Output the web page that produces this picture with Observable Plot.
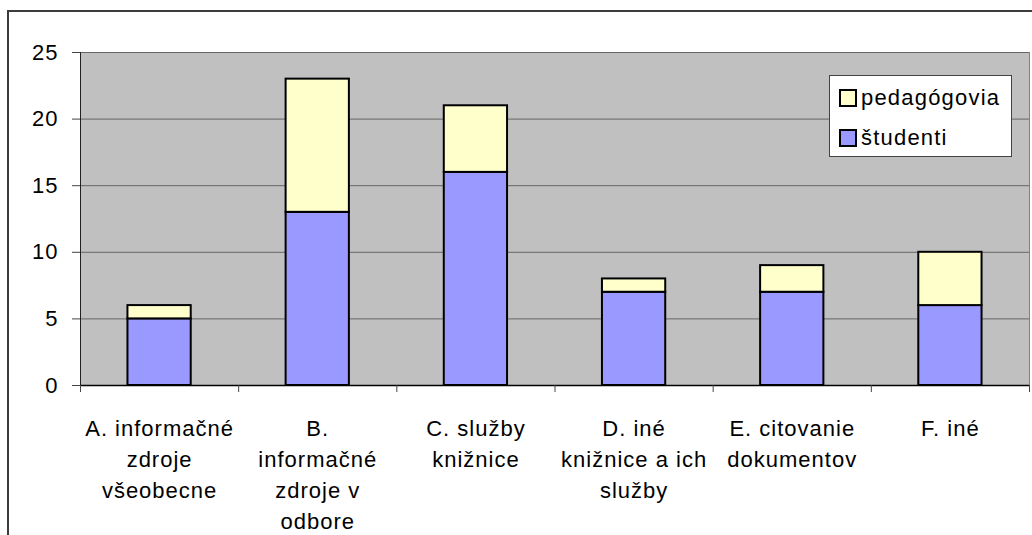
<!DOCTYPE html>
<html>
<head>
<meta charset="utf-8">
<script src="https://cdn.jsdelivr.net/npm/d3@7"></script>
<script src="https://cdn.jsdelivr.net/npm/@observablehq/plot@0.6"></script>
<style>
  html, body { margin: 0; padding: 0; background: #fff; overflow: hidden; }
  #wrap { position: relative; width: 1032px; height: 535px; overflow: hidden; font-family: "Liberation Sans", Arial, sans-serif; }
  #border { position: absolute; left: 7px; top: 10px; width: 1200px; height: 800px; border-left: 2px solid #3c3c3c; border-top: 2px solid #3c3c3c; }
  #chart { position: absolute; left: 0; top: 0; }
  #legend { position: absolute; left: 829px; top: 75px; width: 181px; height: 80px; background: #fff; border: 1px solid #444; }
  .item { position: absolute; left: 9px; display: flex; align-items: center; font-size: 22px; letter-spacing: 1.2px; color: #000; }
  .sw { width: 14px; height: 14px; border: 2px solid #000; margin-right: 4px; }
</style>
</head>
<body>
<div id="wrap">
  <div id="border"></div>
  <div id="chart"></div>
  <div id="legend"></div>
</div>
<script>
const categories = [
  "A. informačné\nzdroje\nvšeobecne",
  "B.\ninformačné\nzdroje v\nodbore",
  "C. služby\nknižnice",
  "D. iné\nknižnice a ich\nslužby",
  "E. citovanie\ndokumentov",
  "F. iné"
];
const studenti = [5, 13, 16, 7, 7, 6];
const pedagogovia = [1, 10, 5, 1, 2, 4];
const seriesNames = ["študenti", "pedagógovia"];
const seriesColors = ["#9999FF", "#FFFFCC"];
const yTicks = [0, 5, 10, 15, 20, 25];

const rows = [];
categories.forEach((c, i) => {
  rows.push({i, series: seriesNames[0], value: studenti[i]});
  rows.push({i, series: seriesNames[1], value: pedagogovia[i]});
});

const chart = Plot.plot({
  width: 1032,
  height: 535,
  marginLeft: 80,
  marginRight: 3,
  marginTop: 52,
  marginBottom: 150,
  style: {fontFamily: "'Liberation Sans', Arial, sans-serif", fontSize: "22px", letterSpacing: "1px", background: "transparent", color: "#000", overflow: "visible"},
  x: {type: "linear", domain: [0, categories.length], axis: null},
  y: {domain: [0, 25], axis: null},
  color: {domain: seriesNames, range: seriesColors},
  marks: [
    Plot.frame({fill: "#C0C0C0", stroke: "#808080"}),
    Plot.gridY(yTicks, {stroke: "#666", strokeOpacity: 1, strokeWidth: 1}),
    Plot.rectY(rows, {x1: d => d.i + 0.3, x2: d => d.i + 0.7, y: "value", fill: "series", stroke: "#000", strokeWidth: 2, order: seriesNames}),
    Plot.ruleX([0], {stroke: "#222", strokeWidth: 1}),
    Plot.ruleY([0], {stroke: "#000", strokeWidth: 1.5}),
    Plot.axisY({ticks: yTicks, tickSize: 8, tickPadding: 14, stroke: "#444", fill: "#000", fontSize: 22, label: null}),
    Plot.axisX({ticks: d3.range(categories.length + 1), tickSize: 7, tickFormat: () => "", stroke: "#444", label: null}),
    Plot.text(categories, {x: (d, i) => i + 0.5, text: d => d, frameAnchor: "bottom", lineAnchor: "top", dy: 28, lineHeight: 1.41, fontSize: 22, fill: "#000"})
  ]
});
document.getElementById("chart").appendChild(chart);

const legend = document.getElementById("legend");
const legendOrder = [1, 0];
legendOrder.forEach((k, j) => {
  const it = document.createElement("div");
  it.className = "item";
  it.style.top = (9 + j * 40) + "px";
  const sw = document.createElement("div");
  sw.className = "sw";
  sw.style.background = seriesColors[k];
  const tx = document.createElement("span");
  tx.textContent = seriesNames[k];
  it.appendChild(sw);
  it.appendChild(tx);
  legend.appendChild(it);
});
</script>
</body>
</html>
